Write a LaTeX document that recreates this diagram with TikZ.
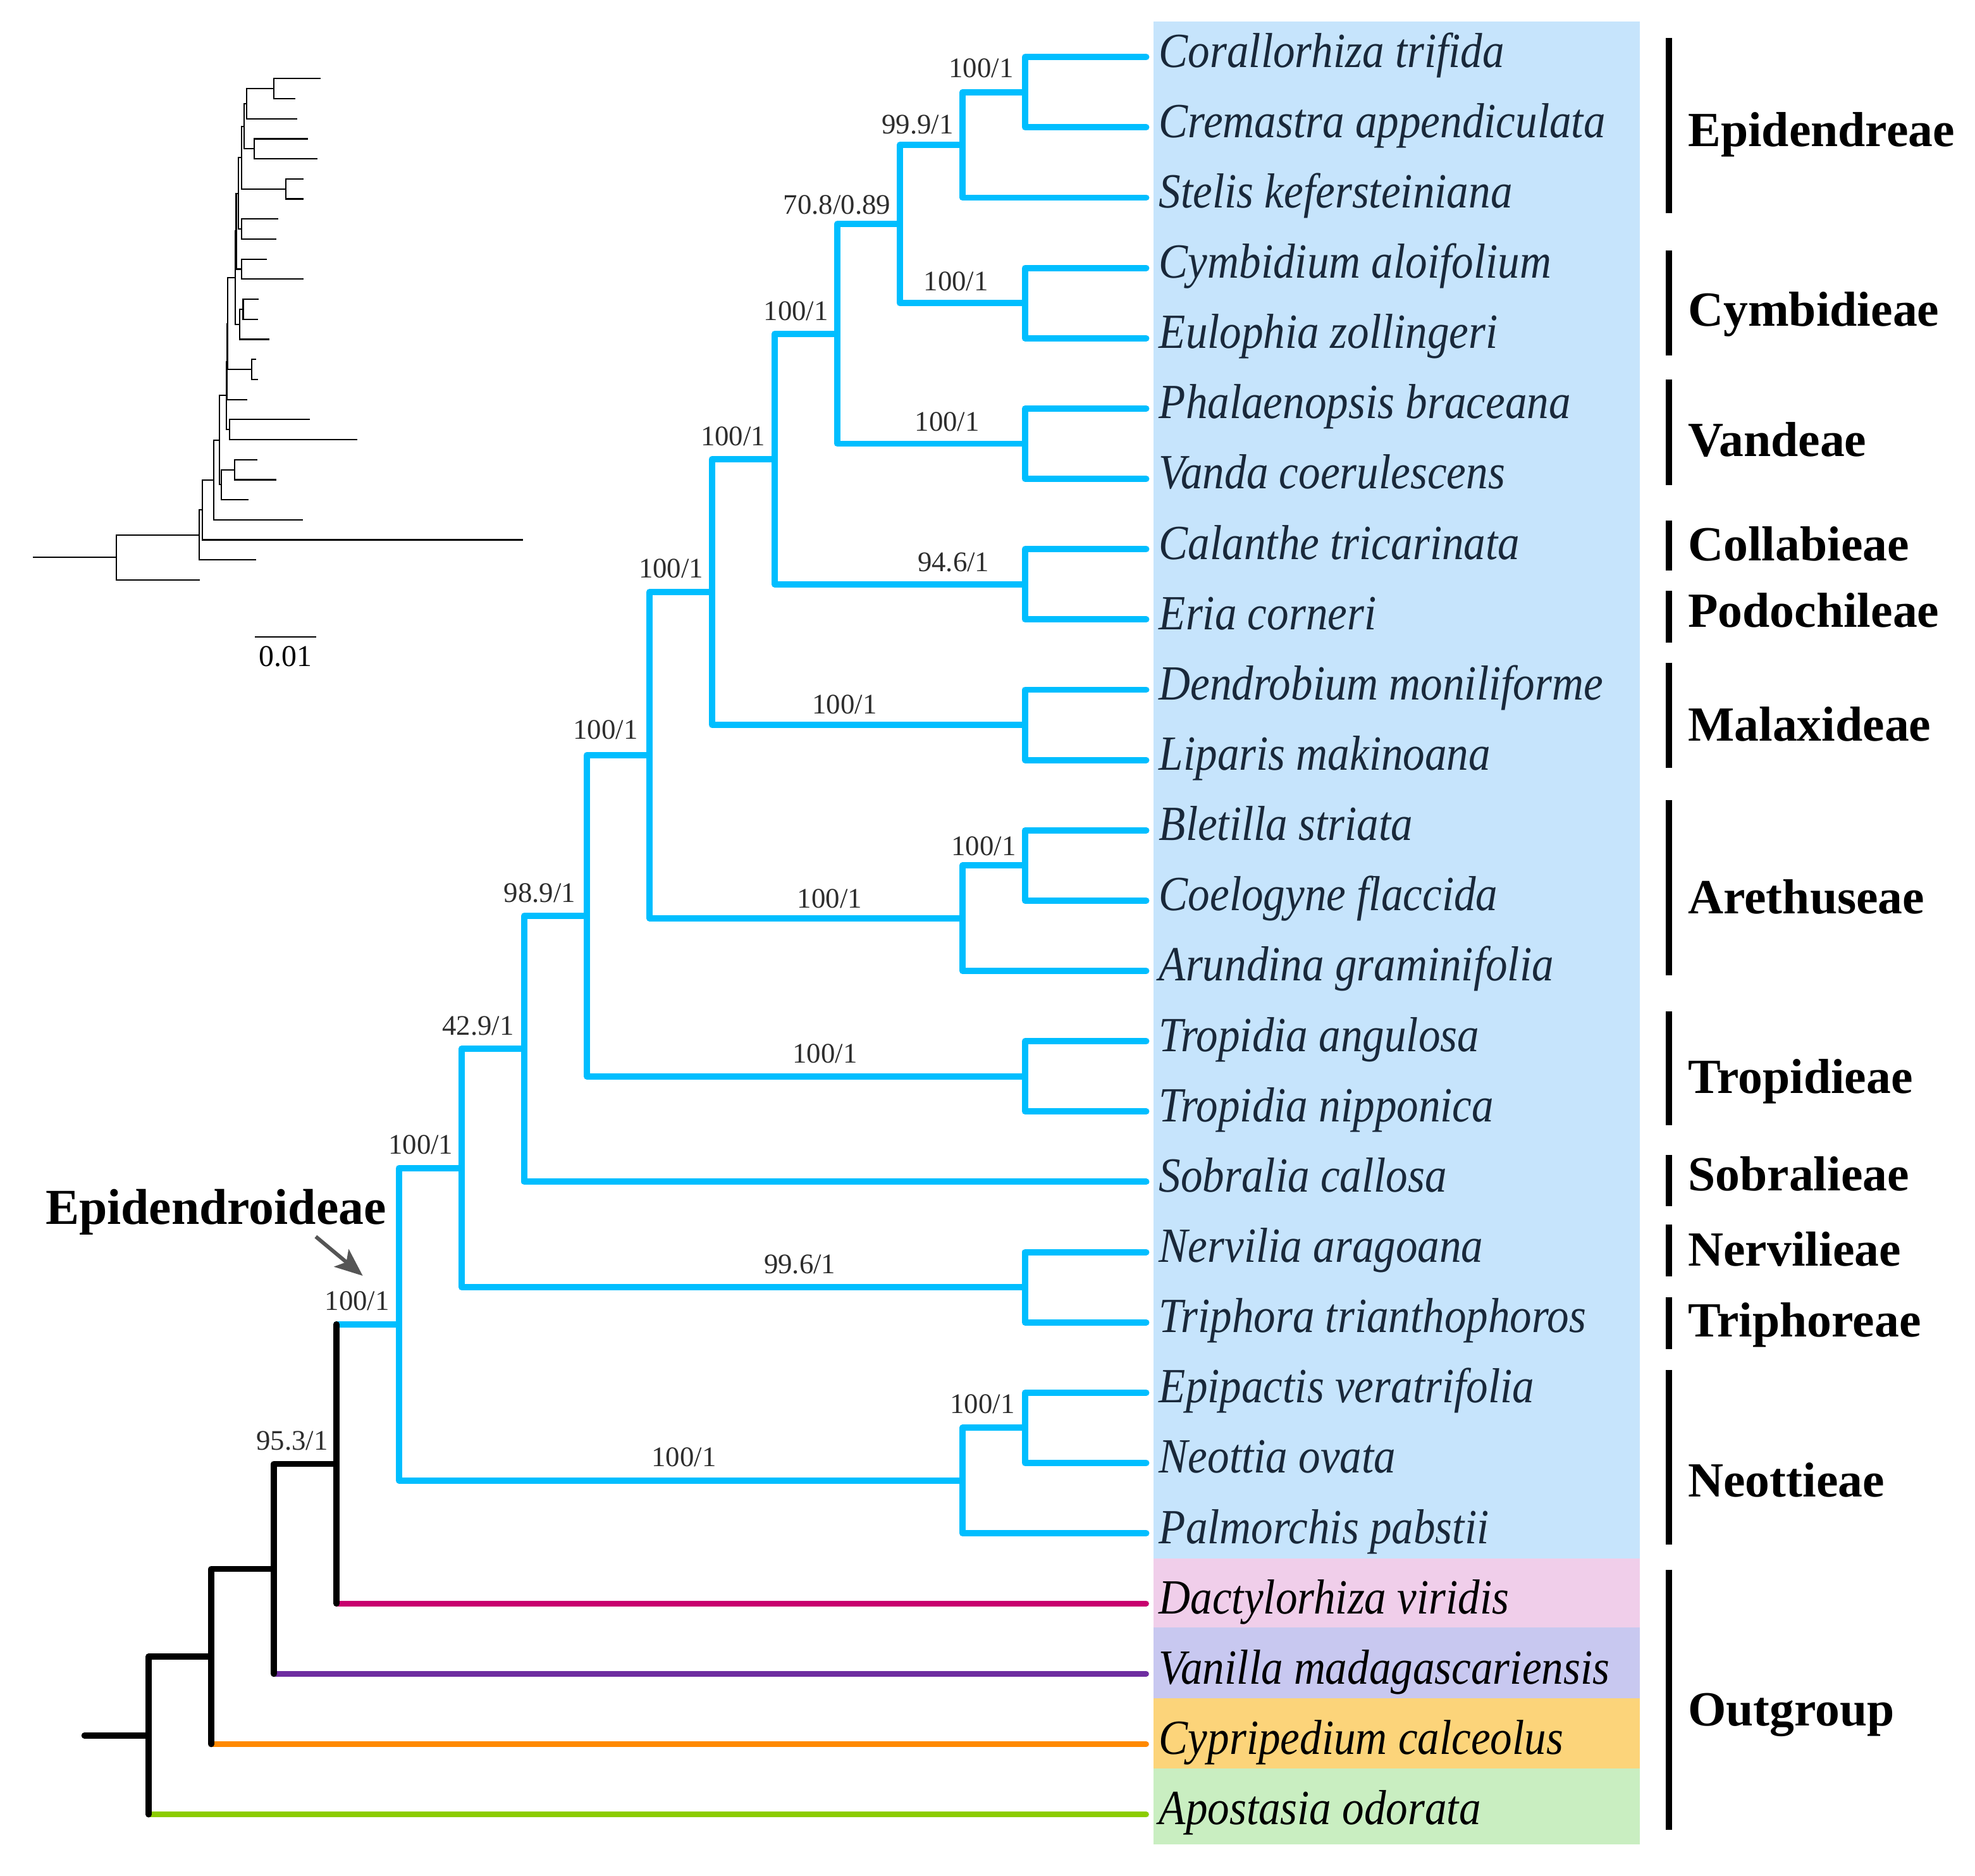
\documentclass[tikz,border=0pt]{standalone}
\usepackage{fontspec}
\setmainfont{Liberation Serif}
\newfontfamily\taxfont[FakeStretch=0.89]{Liberation Serif}
\usetikzlibrary{arrows.meta,calc}
\definecolor{treeblue}{RGB}{0,190,255}
\definecolor{bgblue}{RGB}{198,228,252}
\definecolor{bgpink}{RGB}{240,206,234}
\definecolor{bgpurple}{RGB}{200,200,240}
\definecolor{bgorange}{RGB}{252,212,122}
\definecolor{bggreen}{RGB}{201,238,193}
\definecolor{lnmag}{RGB}{200,0,110}
\definecolor{lnpur}{RGB}{110,45,160}
\definecolor{lnorg}{RGB}{255,137,0}
\definecolor{lngrn}{RGB}{140,204,0}
\definecolor{taxtext}{RGB}{25,40,58}
\definecolor{suptext}{RGB}{45,45,45}
\definecolor{arrowgray}{RGB}{85,85,85}
\tikzset{
  taxon/.style={anchor=base west, inner sep=0pt, font=\taxfont\itshape\fontsize{39}{44}\selectfont, text=taxtext},
  outtaxon/.style={taxon, text=black},
  tribe/.style={anchor=base west, inner sep=0pt, font=\bfseries\fontsize{39}{44}\selectfont},
  support/.style={anchor=base, inner sep=0pt, font=\fontsize{22.5}{26}\selectfont, text=suptext},
  bl/.style={draw=treeblue, line width=5pt},
  blk/.style={draw=black, line width=4.8pt},
  outline/.style={line width=4.4pt},
  tbar/.style={draw=black, line width=5pt, line cap=butt},
  phy/.style={draw=black, line width=1.1pt, line cap=butt, line join=miter},
}
\begin{document}
\begin{tikzpicture}[x=1pt, y=-1pt, line cap=round, line join=round]
\useasboundingbox (0,0) rectangle (1568,1489);

% coloured backgrounds of the taxon column
\fill[bgblue] (916,17) rectangle (1302,1237);
\fill[bgpink] (916,1237) rectangle (1302,1292);
\fill[bgpurple] (916,1292) rectangle (1302,1348);
\fill[bgorange] (916,1348) rectangle (1302,1404);
\fill[bggreen] (916,1404) rectangle (1302,1464);

% ================= main cladogram =================
\begin{scope}[y=-55.8pt, yshift=-45.3pt]
\foreach \j [count=\i] in {0,...,25} \coordinate (t\i) at (910,\j);
\coordinate (cc) at (813.8,0.5);
\coordinate (ccs) at (764.1,1.25);
\coordinate (cym) at (813.8,3.5);
\coordinate (n13) at (714.4,2.375);
\coordinate (van) at (813.8,5.5);
\coordinate (n12) at (664.7,3.9375);
\coordinate (cp) at (813.8,7.5);
\coordinate (n11) at (615,5.71875);
\coordinate (mal) at (813.8,9.5);
\coordinate (n10) at (565.3,7.609375);
\coordinate (arein) at (813.8,11.5);
\coordinate (areout) at (764.1,12.25);
\coordinate (n9) at (515.6,9.9296875);
\coordinate (tro) at (813.8,14.5);
\coordinate (n8) at (465.9,12.21484);
\coordinate (n7) at (416.2,14.10742);
\coordinate (nt) at (813.8,17.5);
\coordinate (n6) at (366.5,15.80371);
\coordinate (neoin) at (813.8,19.5);
\coordinate (neoout) at (764.1,20.25);
\coordinate (n5) at (316.8,18.02686);
\coordinate (n4) at (267.1,20.01343);
\coordinate (n3) at (217.4,21.50671);
\coordinate (n2) at (167.7,22.75336);
\coordinate (n1) at (118,23.87668);
\coordinate (rootstub) at (67,23.87668);

% blue (Epidendroideae) branches
\draw[bl] (t1) -| (cc) |- (t2);
\draw[bl] (cc) -| (ccs) |- (t3);
\draw[bl] (t4) -| (cym) |- (t5);
\draw[bl] (ccs) -| (n13) |- (cym);
\draw[bl] (t6) -| (van) |- (t7);
\draw[bl] (n13) -| (n12) |- (van);
\draw[bl] (t8) -| (cp) |- (t9);
\draw[bl] (n12) -| (n11) |- (cp);
\draw[bl] (t10) -| (mal) |- (t11);
\draw[bl] (n11) -| (n10) |- (mal);
\draw[bl] (t12) -| (arein) |- (t13);
\draw[bl] (arein) -| (areout) |- (t14);
\draw[bl] (n10) -| (n9) |- (areout);
\draw[bl] (t15) -| (tro) |- (t16);
\draw[bl] (n9) -| (n8) |- (tro);
\draw[bl] (n8) -| (n7) |- (t17);
\draw[bl] (t18) -| (nt) |- (t19);
\draw[bl] (n7) -| (n6) |- (nt);
\draw[bl] (t20) -| (neoin) |- (t21);
\draw[bl] (neoin) -| (neoout) |- (t22);
\draw[bl] (n6) -| (n5) |- (neoout);
\draw[bl] (n4 |- n5) -- (n5);

% outgroup branches
\draw[outline, draw=lngrn] (n1 |- t26) -- (t26);
\draw[outline, draw=lnorg] (n2 |- t25) -- (t25);
\draw[outline, draw=lnpur] (n3 |- t24) -- (t24);
\draw[outline, draw=lnmag] (n4 |- t23) -- (t23);

% black backbone
\draw[blk] (rootstub) -- (n1);
\draw[blk] (n2) -| (n1) -- (n1 |- t26);
\draw[blk] (n3) -| (n2) -- (n2 |- t25);
\draw[blk] (n4) -| (n3) -- (n3 |- t24);
\draw[blk] (n4 |- n5) -- (n4 |- t23);

% taxon names
\foreach \nm [count=\i] in {Corallorhiza trifida, Cremastra appendiculata, Stelis kefersteiniana,
  Cymbidium aloifolium, Eulophia zollingeri, Phalaenopsis braceana, Vanda coerulescens,
  Calanthe tricarinata, Eria corneri, Dendrobium moniliforme, Liparis makinoana,
  Bletilla striata, Coelogyne flaccida, Arundina graminifolia, Tropidia angulosa,
  Tropidia nipponica, Sobralia callosa, Nervilia aragoana, Triphora trianthophoros,
  Epipactis veratrifolia, Neottia ovata, Palmorchis pabstii}
  \node[taxon] (L\i) at ([xshift=10pt,yshift=-8pt]t\i) {\nm};
\foreach \nm [count=\k from 23] in {Dactylorhiza viridis, Vanilla madagascariensis,
  Cypripedium calceolus, Apostasia odorata}
  \node[outtaxon] (L\k) at ([xshift=10pt,yshift=-8pt]t\k) {\nm};
\end{scope}

% support values
\node[support] (s-cc) at (779,61.5) {100/1};
\node[support] (s-ccs) at (728.5,106) {99.9/1};
\node[support] (s-n13) at (664.5,169.7) {70.8/0.89};
\node[support] (s-cym) at (759,230.7) {100/1};
\node[support] (s-n12) at (632,254.4) {100/1};
\node[support] (s-van) at (752,342) {100/1};
\node[support] (s-n11) at (582,353.5) {100/1};
\node[support] (s-cp) at (757,453.6) {94.6/1};
\node[support] (s-n10) at (532.8,458.7) {100/1};
\node[support] (s-mal) at (670.5,566.8) {100/1};
\node[support] (s-n9) at (480.7,586.8) {100/1};
\node[support] (s-arein) at (781,679) {100/1};
\node[support] (s-areout) at (658.7,720.5) {100/1};
\node[support] (s-n8) at (428.5,716) {98.9/1};
\node[support] (s-tro) at (655,843.5) {100/1};
\node[support] (s-n7) at (379.5,821.5) {42.9/1};
\node[support] (s-n6) at (334,916) {100/1};
\node[support] (s-nt) at (635,1011) {99.6/1};
\node[support] (s-neoin) at (780,1122) {100/1};
\node[support] (s-neoout) at (543,1164) {100/1};
\node[support] (s-n5) at (283.5,1040) {100/1};
\node[support] (s-n4) at (232,1151) {95.3/1};

% Epidendroideae label and arrow
\node[anchor=base west, inner sep=0pt, font=\bfseries\fontsize{40}{46}\selectfont] (epi) at (36,971.8) {Epidendroideae};
\coordinate (arrS) at (250.7,981.6);
\coordinate (arrE) at (288,1012.7);
\draw[arrowgray, line width=3pt, line cap=butt, -{Stealth[length=22pt,width=18pt,inset=5pt]}] (arrS) -- (arrE);

% tribe bars and names
\draw[tbar] (1325,30) -- (1325,169);
\draw[tbar] (1325,199) -- (1325,282);
\draw[tbar] (1325,301) -- (1325,385);
\draw[tbar] (1325,413) -- (1325,453);
\draw[tbar] (1325,469) -- (1325,510);
\draw[tbar] (1325,526) -- (1325,609.5);
\draw[tbar] (1325,635) -- (1325,774);
\draw[tbar] (1325,803) -- (1325,893);
\draw[tbar] (1325,917) -- (1325,957.5);
\draw[tbar] (1325,972) -- (1325,1013);
\draw[tbar] (1325,1030) -- (1325,1071);
\draw[tbar] (1325,1087.5) -- (1325,1226);
\draw[tbar] (1325,1246) -- (1325,1452.5);
\node[tribe] (T1) at (1340,116) {Epidendreae};
\node[tribe] (T2) at (1340,259) {Cymbidieae};
\node[tribe] (T3) at (1340,362) {Vandeae};
\node[tribe] (T4) at (1340,445) {Collabieae};
\node[tribe] (T5) at (1340,498) {Podochileae};
\node[tribe] (T6) at (1340,588) {Malaxideae};
\node[tribe] (T7) at (1340,725) {Arethuseae};
\node[tribe] (T8) at (1340,868) {Tropidieae};
\node[tribe] (T9) at (1340,945) {Sobralieae};
\node[tribe] (T10) at (1340,1005) {Nervilieae};
\node[tribe] (T11) at (1340,1061) {Triphoreae};
\node[tribe] (T12) at (1340,1188) {Neottieae};
\node[tribe] (T13) at (1340,1370) {Outgroup};

% ================= inset phylogram =================
\begin{scope}[y=-15.92pt, yshift=-62.4pt]
\foreach \xx [count=\i] in {254.4,234.3,236,244.4,251.9,241,241,220.9,219.3,211.7,241,205.5,204.7,213.9,
  203.3,205,196.2,246,283.7,204.2,219.3,197.5,240.5,415.3,203.1,158.9}
  \coordinate (p\i) at (\xx,\i-1);
\coordinate (qcc) at (217.6,0.5);
\coordinate (qccs) at (195.8,1.25);
\coordinate (qcym) at (201.7,3.5);
\coordinate (qn13) at (193.8,2.375);
\coordinate (qvan) at (226.8,5.5);
\coordinate (qn12) at (191.6,3.9375);
\coordinate (qcp) at (191.6,7.5);
\coordinate (qn11) at (189.4,5.71875);
\coordinate (qmal) at (191.6,9.5);
\coordinate (qn10) at (187.5,7.609375);
\coordinate (qarein) at (193,11.5);
\coordinate (qareout) at (190.3,12.25);
\coordinate (qn9) at (186.6,9.9296875);
\coordinate (qtro) at (200,14.5);
\coordinate (qn8) at (180.8,12.21484);
\coordinate (qn7) at (180.4,14.10742);
\coordinate (qnt) at (182.4,17.5);
\coordinate (qn6) at (179.9,15.80371);
\coordinate (qneoin) at (186.3,19.5);
\coordinate (qneoout) at (175.7,20.25);
\coordinate (qn5) at (174.1,18.02686);
\coordinate (qn4) at (169.9,20.01343);
\coordinate (qn3) at (160.7,21.50671);
\coordinate (qn2) at (158.2,22.75336);
\coordinate (qn1) at (92.2,23.87668);
\coordinate (qstub) at (26.2,23.87668);
\draw[phy] (p1) -| (qcc) |- (p2);
\draw[phy] (qcc) -| (qccs) |- (p3);
\draw[phy] (p4) -| (qcym) |- (p5);
\draw[phy] (qccs) -| (qn13) |- (qcym);
\draw[phy] (p6) -| (qvan) |- (p7);
\draw[phy] (qn13) -| (qn12) |- (qvan);
\draw[phy] (p8) -| (qcp) |- (p9);
\draw[phy] (qn12) -| (qn11) |- (qcp);
\draw[phy] (p10) -| (qmal) |- (p11);
\draw[phy] (qn11) -| (qn10) |- (qmal);
\draw[phy] (p12) -| (qarein) |- (p13);
\draw[phy] (qarein) -| (qareout) |- (p14);
\draw[phy] (qn10) -| (qn9) |- (qareout);
\draw[phy] (p15) -| (qtro) |- (p16);
\draw[phy] (qn9) -| (qn8) |- (qtro);
\draw[phy] (qn8) -| (qn7) |- (p17);
\draw[phy] (p18) -| (qnt) |- (p19);
\draw[phy] (qn7) -| (qn6) |- (qnt);
\draw[phy] (p20) -| (qneoin) |- (p21);
\draw[phy] (qneoin) -| (qneoout) |- (p22);
\draw[phy] (qn6) -| (qn5) |- (qneoout);
\draw[phy] (qn5) -| (qn4) |- (p23);
\draw[phy] (qn4) -| (qn3) |- (p24);
\draw[phy] (qn3) -| (qn2) |- (p25);
\draw[phy] (qn2) -| (qn1) |- (p26);
\draw[phy] (qstub) -- (qn1);
\end{scope}

% scale bar
\coordinate (sbL) at (202.4,505.6);
\coordinate (sbR) at (251,505.6);
\draw[phy] (sbL) -- (sbR);
\node[support, text=black, font=\fontsize{24}{28}\selectfont] (sbT) at (226.7,529) {0.01};
\end{tikzpicture}
\end{document}
